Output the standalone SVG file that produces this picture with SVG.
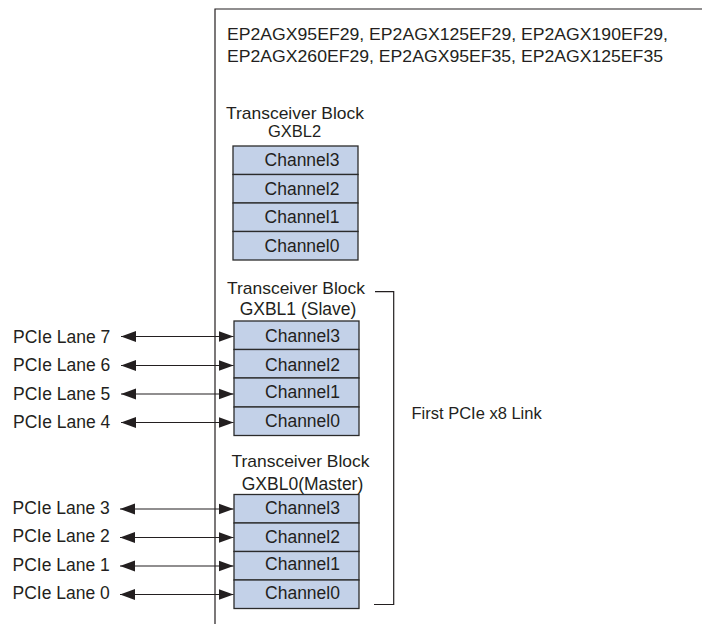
<svg xmlns="http://www.w3.org/2000/svg" width="702" height="624" viewBox="0 0 702 624">
<defs>
<style>
text{font-family:"Liberation Sans",Arial,sans-serif;fill:#231f20}
.t{font-size:16.5px}
.tb{font-size:17px;text-anchor:middle}
.ch{font-size:17.5px;text-anchor:middle}
.ln{font-size:17.5px}
.ttl{text-anchor:middle}
.cell{fill:#c3d1e8;stroke:#2b2b2b;stroke-width:1.3}
.wire{stroke:#231f20;stroke-width:1.2;fill:none}
.frame{stroke:#231f20;stroke-width:1.2;fill:none}
</style>
<marker id="ah" markerUnits="userSpaceOnUse" markerWidth="16" markerHeight="12" refX="15" refY="6" orient="auto-start-reverse" viewBox="0 0 16 12">
<path d="M0,0.6 L15,6 L0,11.4 Z" fill="#231f20"/>
</marker>
</defs>
<rect width="702" height="624" fill="#fff"/>

<g id="frame">
<path class="frame" d="M215,624 V9 H702"/>
<text class="t" x="227" y="40" textLength="441" lengthAdjust="spacingAndGlyphs">EP2AGX95EF29, EP2AGX125EF29, EP2AGX190EF29,</text>
<text class="t" x="227" y="62" textLength="436" lengthAdjust="spacingAndGlyphs">EP2AGX260EF29, EP2AGX95EF35, EP2AGX125EF35</text>
</g>

<g id="gxbl2">
<text class="tb" x="295" y="118.5" textLength="138" lengthAdjust="spacingAndGlyphs">Transceiver Block</text>
<text class="ttl" style="font-size:16.5px" x="294.5" y="137">GXBL2</text>
<rect class="cell" x="233" y="146" width="125" height="28.5"/>
<rect class="cell" x="233" y="174.5" width="125" height="28.5"/>
<rect class="cell" x="233" y="203" width="125" height="28.5"/>
<rect class="cell" x="233" y="231.5" width="125" height="28.5"/>
<text class="ch" x="302" y="166">Channel3</text>
<text class="ch" x="302" y="195">Channel2</text>
<text class="ch" x="302" y="223">Channel1</text>
<text class="ch" x="302" y="252">Channel0</text>
</g>

<g id="gxbl1">
<text class="tb" x="296" y="293.5" textLength="138" lengthAdjust="spacingAndGlyphs">Transceiver Block</text>
<text class="ttl" style="font-size:17.5px" x="298" y="315">GXBL1 (Slave)</text>
<rect class="cell" x="234" y="321" width="125" height="28.5"/>
<rect class="cell" x="234" y="349.5" width="125" height="28.5"/>
<rect class="cell" x="234" y="378" width="125" height="29"/>
<rect class="cell" x="234" y="407" width="125" height="28.5"/>
<text class="ch" x="302.5" y="341.5">Channel3</text>
<text class="ch" x="302.5" y="370.5">Channel2</text>
<text class="ch" x="302.5" y="398">Channel1</text>
<text class="ch" x="302.5" y="426.5">Channel0</text>
</g>

<g id="gxbl0">
<text class="tb" x="300.5" y="467" textLength="138" lengthAdjust="spacingAndGlyphs">Transceiver Block</text>
<text class="ttl" style="font-size:17.5px" x="302.5" y="490">GXBL0(Master)</text>
<rect class="cell" x="234" y="494.5" width="125" height="28.5"/>
<rect class="cell" x="234" y="523" width="125" height="28.5"/>
<rect class="cell" x="234" y="551.5" width="125" height="28.5"/>
<rect class="cell" x="234" y="580" width="125" height="28.5"/>
<text class="ch" x="302.5" y="513.5">Channel3</text>
<text class="ch" x="302.5" y="542.5">Channel2</text>
<text class="ch" x="302.5" y="570">Channel1</text>
<text class="ch" x="302.5" y="599">Channel0</text>
</g>

<g id="link">
<path class="wire" d="M375,291.7 H393.7 V604.5 H374"/>
<text class="t" x="411.5" y="418.5">First PCIe x8 Link</text>
</g>

<g id="lanes">
<text class="ln" x="13" y="342.5">PCIe Lane 7</text>
<text class="ln" x="13" y="371">PCIe Lane 6</text>
<text class="ln" x="13" y="400">PCIe Lane 5</text>
<text class="ln" x="13" y="427.5">PCIe Lane 4</text>
<text class="ln" x="12.5" y="513.5">PCIe Lane 3</text>
<text class="ln" x="12.5" y="541.5">PCIe Lane 2</text>
<text class="ln" x="12.5" y="571">PCIe Lane 1</text>
<text class="ln" x="12.5" y="599">PCIe Lane 0</text>
</g>

<g id="connectors">
<line class="wire" x1="121" y1="336.5" x2="233.5" y2="336.5" marker-start="url(#ah)" marker-end="url(#ah)"/>
<line class="wire" x1="121" y1="365.5" x2="233.5" y2="365.5" marker-start="url(#ah)" marker-end="url(#ah)"/>
<line class="wire" x1="121" y1="394" x2="233.5" y2="394" marker-start="url(#ah)" marker-end="url(#ah)"/>
<line class="wire" x1="121" y1="422.5" x2="233.5" y2="422.5" marker-start="url(#ah)" marker-end="url(#ah)"/>
<line class="wire" x1="120" y1="509" x2="233.5" y2="509" marker-start="url(#ah)" marker-end="url(#ah)"/>
<line class="wire" x1="120" y1="537.5" x2="233.5" y2="537.5" marker-start="url(#ah)" marker-end="url(#ah)"/>
<line class="wire" x1="120" y1="566" x2="233.5" y2="566" marker-start="url(#ah)" marker-end="url(#ah)"/>
<line class="wire" x1="120" y1="594.5" x2="233.5" y2="594.5" marker-start="url(#ah)" marker-end="url(#ah)"/>
</g>
</svg>
